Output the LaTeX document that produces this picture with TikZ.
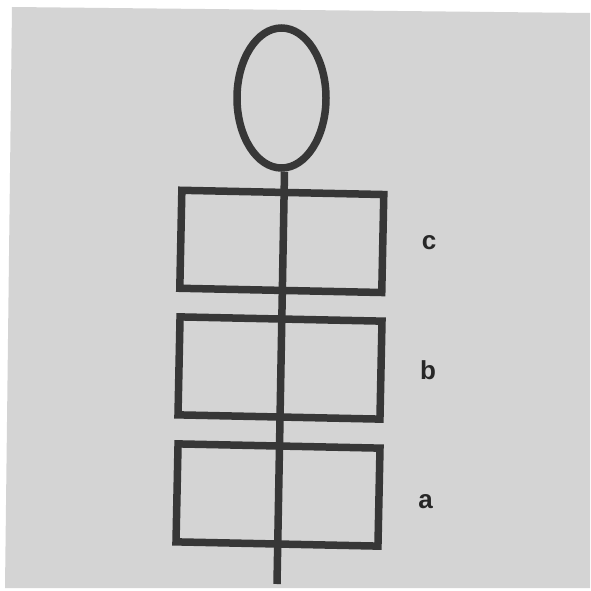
\documentclass[tikz,border=0pt]{standalone}
\usepackage{fontspec}
\usetikzlibrary{shapes.geometric}
\newfontfamily\labfont{Liberation Sans}
\definecolor{bgray}{RGB}{212,212,212}
\definecolor{ink}{RGB}{55,55,55}
\begin{document}
\begin{tikzpicture}[x=1pt,y=-1pt,
  stroke/.style={draw=ink,line width=7.5pt},
  segbox/.style={stroke,rectangle,inner sep=0pt,minimum width=202pt,minimum height=98pt,rotate=-1.2},
  lab/.style={inner sep=0pt,text=ink!70!black,font=\labfont\bfseries\fontsize{26}{26}\selectfont}]
\useasboundingbox (0,0) rectangle (590,591);
\fill[white] (0,0) rectangle (590,591);
\fill[bgray] (12,7) -- (590,13) -- (590,588) -- (5,588) -- cycle;
\node[stroke,ellipse,inner sep=0pt,minimum width=89pt,minimum height=140pt] (head) at (281.5,98) {};
\node[segbox] (c) at (281.8,241.4) {};
\node[segbox] (b) at (280,368) {};
\node[segbox] (a) at (278,495) {};
\coordinate (foot) at (277,584);
\draw[draw=ink,line width=7.5pt] ([xshift=3pt]head.south) -- (foot);
\node[lab] (lc) at (429,243) {c};
\node[lab] (lb) at (428,370) {b};
\node[lab] (la) at (425.5,502) {a};
\end{tikzpicture}
\end{document}
